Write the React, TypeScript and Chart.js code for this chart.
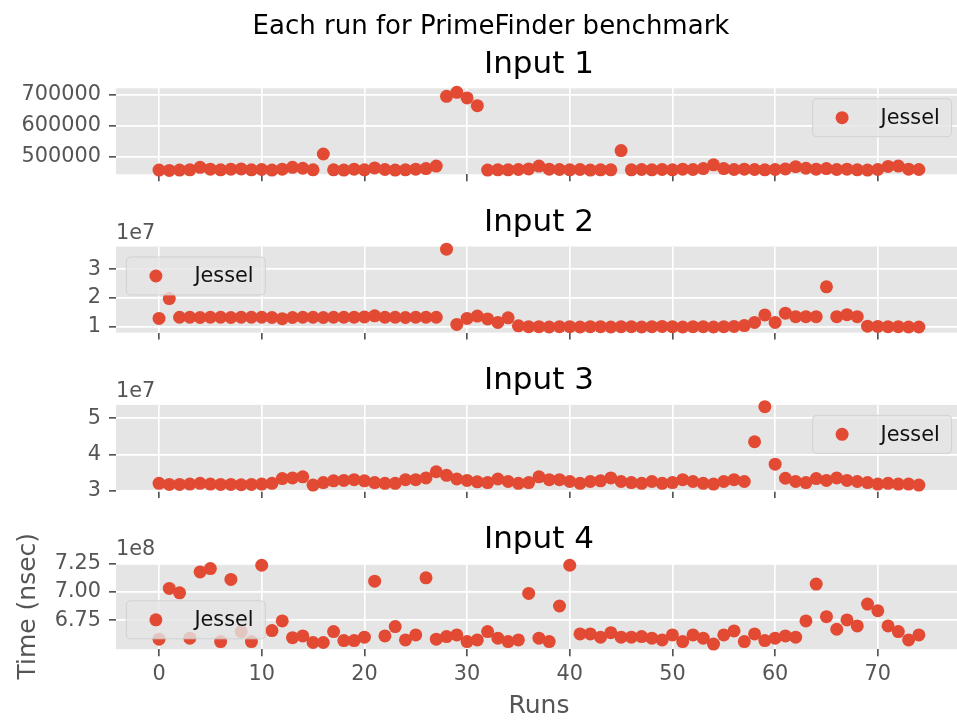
import React, { useEffect, useRef } from "react";
import { Chart, registerables } from "chart.js";

Chart.register(...registerables);

// ---------------- data ----------------
const SUPTITLE = "Each run for PrimeFinder benchmark";
const SERIES_NAME = "Jessel";
const X_LABEL = "Runs";
const Y_LABEL = "Time (nsec)";
const TITLES = ["Input 1", "Input 2", "Input 3", "Input 4"];

const RUNS = [
  0, 1, 2, 3, 4, 5, 6, 7, 8, 9, 10, 11, 12, 13, 14, 15, 16, 17, 18, 19, 20, 21, 22, 23, 24,
  25, 26, 27, 28, 29, 30, 31, 32, 33, 34, 35, 36, 37, 38, 39, 40, 41, 42, 43, 44, 45, 46, 47, 48, 49,
  50, 51, 52, 53, 54, 55, 56, 57, 58, 59, 60, 61, 62, 63, 64, 65, 66, 67, 68, 69, 70, 71, 72, 73, 74,
];

const INPUT1 = [
  457000, 456000, 457000, 458000, 466000, 460000, 458000, 460000, 461000, 458000,
  459000, 457000, 460000, 466000, 463000, 458000, 509000, 458000, 457000, 460000,
  458000, 464000, 459000, 457000, 458000, 460000, 462000, 470000, 695000, 708000,
  690000, 665000, 457000, 458000, 458000, 459000, 461000, 470000, 460000, 459000,
  458000, 459000, 457000, 458000, 458000, 520000, 458000, 459000, 458000, 459000,
  458000, 460000, 459000, 462000, 474000, 462000, 459000, 460000, 459000, 458000,
  459000, 461000, 468000, 463000, 460000, 462000, 459000, 460000, 458000, 457000,
  459000, 469000, 470000, 460000, 459000,
];

const INPUT2 = [
  1.29e7, 1.98e7, 1.33e7, 1.33e7, 1.32e7, 1.33e7, 1.33e7, 1.32e7, 1.33e7, 1.33e7,
  1.33e7, 1.32e7, 1.28e7, 1.32e7, 1.33e7, 1.33e7, 1.32e7, 1.33e7, 1.33e7, 1.33e7,
  1.34e7, 1.38e7, 1.33e7, 1.33e7, 1.32e7, 1.33e7, 1.33e7, 1.33e7, 3.70e7, 1.08e7,
  1.29e7, 1.37e7, 1.27e7, 1.15e7, 1.31e7, 1.03e7, 1.0e7, 1.0e7, 0.99e7, 1.0e7,
  1.0e7, 0.99e7, 1.0e7, 1.0e7, 0.99e7, 1.0e7, 1.0e7, 0.99e7, 1.0e7, 1.01e7,
  1.0e7, 0.99e7, 1.0e7, 1.0e7, 0.99e7, 1.0e7, 1.01e7, 1.04e7, 1.15e7, 1.41e7,
  1.15e7, 1.47e7, 1.35e7, 1.35e7, 1.35e7, 2.39e7, 1.35e7, 1.42e7, 1.35e7, 1.02e7,
  1.01e7, 1.0e7, 1.0e7, 0.99e7, 0.99e7,
];

const INPUT3 = [
  3.20e7, 3.17e7, 3.17e7, 3.18e7, 3.20e7, 3.18e7, 3.17e7, 3.17e7, 3.16e7, 3.17e7,
  3.18e7, 3.20e7, 3.33e7, 3.35e7, 3.38e7, 3.15e7, 3.22e7, 3.27e7, 3.28e7, 3.30e7,
  3.27e7, 3.22e7, 3.20e7, 3.20e7, 3.30e7, 3.30e7, 3.35e7, 3.52e7, 3.42e7, 3.32e7,
  3.28e7, 3.24e7, 3.22e7, 3.32e7, 3.25e7, 3.20e7, 3.22e7, 3.38e7, 3.30e7, 3.30e7,
  3.25e7, 3.20e7, 3.25e7, 3.27e7, 3.35e7, 3.25e7, 3.22e7, 3.20e7, 3.25e7, 3.20e7,
  3.22e7, 3.30e7, 3.25e7, 3.20e7, 3.18e7, 3.25e7, 3.30e7, 3.25e7, 4.35e7, 5.32e7,
  3.73e7, 3.34e7, 3.25e7, 3.22e7, 3.33e7, 3.28e7, 3.35e7, 3.28e7, 3.25e7, 3.22e7,
  3.18e7, 3.20e7, 3.18e7, 3.18e7, 3.15e7,
];

const INPUT4 = [
  6.582e8, 7.03e8, 6.991e8, 6.591e8, 7.175e8, 7.205e8, 6.561e8, 7.109e8, 6.649e8, 6.561e8,
  7.234e8, 6.658e8, 6.743e8, 6.596e8, 6.611e8, 6.553e8, 6.553e8, 6.649e8, 6.57e8, 6.57e8,
  6.6e8, 7.094e8, 6.611e8, 6.693e8, 6.576e8, 6.62e8, 7.123e8, 6.582e8, 6.605e8, 6.62e8,
  6.561e8, 6.576e8, 6.649e8, 6.591e8, 6.561e8, 6.576e8, 6.986e8, 6.591e8, 6.561e8, 6.875e8,
  7.234e8, 6.629e8, 6.629e8, 6.6e8, 6.64e8, 6.6e8, 6.6e8, 6.605e8, 6.591e8, 6.576e8,
  6.62e8, 6.561e8, 6.62e8, 6.591e8, 6.539e8, 6.62e8, 6.655e8, 6.561e8, 6.629e8, 6.57e8,
  6.591e8, 6.611e8, 6.6e8, 6.743e8, 7.068e8, 6.781e8, 6.67e8, 6.752e8, 6.699e8, 6.892e8,
  6.833e8, 6.699e8, 6.649e8, 6.576e8, 6.62e8,
];

const X_TICKS = [0, 10, 20, 30, 40, 50, 60, 70];
const Y_TICKS_1 = [500000, 600000, 700000];
const Y_TICKS_2 = [1e7, 2e7, 3e7];
const Y_TICKS_3 = [3e7, 4e7, 5e7];
const Y_TICKS_4 = [6.75e8, 7.0e8, 7.25e8];

// ---------------- layout / style ----------------
const CANVAS_W = 970;
const CANVAS_H = 721;
const PLOT_LEFT = 116;
const PLOT_RIGHT = 962;
const PLOT_H = 86;
const PLOT_TOPS = [88.3, 246.6, 404.9, 563.2];
const X_AXIS_H = 40;
const X_MIN = -4.19;
const X_MAX = 78.2;
const RED = "#E24A33";
const BG = "#E5E5E5";
const TICK_COLOR = "#555555";
const FONT = "'DejaVu Sans', 'Liberation Sans', sans-serif";

type Sub = {
  values: number[];
  ticks: number[];
  min: number;
  max: number;
  offset: string;
  legend: string;
  fmt: (v: number) => string;
};

const SUBPLOTS: Sub[] = [
  { values: INPUT1, ticks: Y_TICKS_1, min: 443500, max: 721000, offset: "", legend: "upper right", fmt: (v) => String(Math.round(v)) },
  { values: INPUT2, ticks: Y_TICKS_2, min: 0.795e7, max: 3.79e7, offset: "1e7", legend: "upper left", fmt: (v) => String(Math.round(v / 1e7)) },
  { values: INPUT3, ticks: Y_TICKS_3, min: 2.99e7, max: 5.37e7, offset: "1e7", legend: "upper right", fmt: (v) => String(Math.round(v / 1e7)) },
  { values: INPUT4, ticks: Y_TICKS_4, min: 6.494e8, max: 7.252e8, offset: "1e8", legend: "lower left", fmt: (v) => (v / 1e8).toFixed(2) },
];

function drawLegend(ctx: CanvasRenderingContext2D, area: any, pos: string) {
  const w = 139;
  const h = 38;
  const pad = 10.4;
  const x = pos.includes("right") ? area.right - pad - w : area.left + pad;
  const y = pos.includes("upper") ? area.top + pad : area.bottom - pad - h;
  ctx.save();
  ctx.beginPath();
  const r = 4;
  ctx.moveTo(x + r, y);
  ctx.lineTo(x + w - r, y);
  ctx.quadraticCurveTo(x + w, y, x + w, y + r);
  ctx.lineTo(x + w, y + h - r);
  ctx.quadraticCurveTo(x + w, y + h, x + w - r, y + h);
  ctx.lineTo(x + r, y + h);
  ctx.quadraticCurveTo(x, y + h, x, y + h - r);
  ctx.lineTo(x, y + r);
  ctx.quadraticCurveTo(x, y, x + r, y);
  ctx.closePath();
  ctx.fillStyle = "rgba(229,229,229,0.8)";
  ctx.fill();
  ctx.strokeStyle = "rgba(204,204,204,0.8)";
  ctx.lineWidth = 1;
  ctx.stroke();
  ctx.beginPath();
  ctx.arc(x + 29.5, y + h / 2, 6.5, 0, Math.PI * 2);
  ctx.fillStyle = RED;
  ctx.fill();
  ctx.fillStyle = "#111";
  ctx.font = `20.8px ${FONT}`;
  ctx.textAlign = "left";
  ctx.textBaseline = "middle";
  ctx.fillText(SERIES_NAME, x + 68, y + h / 2 + 1);
  ctx.restore();
}

function Subplot({ idx }: { idx: number }) {
  const ref = useRef<HTMLCanvasElement>(null);
  useEffect(() => {
    const cfg = SUBPLOTS[idx];
    const top = PLOT_TOPS[idx];
    const decor = {
      id: "decor" + idx,
      beforeDraw(chart: any) {
        const { ctx, chartArea: a } = chart;
        ctx.save();
        ctx.fillStyle = BG;
        ctx.fillRect(a.left, a.top, a.right - a.left, a.bottom - a.top);
        ctx.restore();
      },
      afterDraw(chart: any) {
        const { ctx, chartArea: a } = chart;
        ctx.save();
        // subplot title
        ctx.fillStyle = "#000";
        ctx.font = `31px ${FONT}`;
        ctx.textAlign = "center";
        ctx.textBaseline = "alphabetic";
        ctx.fillText(TITLES[idx], (a.left + a.right) / 2, a.top - 15.5);
        // offset text
        if (cfg.offset) {
          ctx.fillStyle = TICK_COLOR;
          ctx.font = `20.8px ${FONT}`;
          ctx.textAlign = "left";
          ctx.fillText(cfg.offset, a.left, a.top - 8);
        }
        if (idx === 0) {
          ctx.fillStyle = "#000";
          ctx.font = `26px ${FONT}`;
          ctx.textAlign = "center";
          ctx.fillText(SUPTITLE, 491, 34);
        }
        if (idx === 3) {
          ctx.fillStyle = TICK_COLOR;
          ctx.font = `25px ${FONT}`;
          ctx.textAlign = "center";
          ctx.textBaseline = "middle";
          ctx.fillText(X_LABEL, (a.left + a.right) / 2, 706);
          ctx.translate(28, (a.top + a.bottom) / 2);
          ctx.rotate(-Math.PI / 2);
          ctx.fillText(Y_LABEL, 0, 0);
        }
        ctx.restore();
        drawLegend(ctx, a, cfg.legend);
      },
    };
    const gridCommon = {
      color: "#ffffff",
      lineWidth: 1.67,
      drawTicks: true,
      tickLength: 7,
      tickColor: TICK_COLOR,
      tickWidth: 1.67,
    };
    const chart = new Chart(ref.current as HTMLCanvasElement, {
      type: "scatter",
      data: {
        datasets: [
          {
            label: SERIES_NAME,
            data: RUNS.map((r, i) => ({ x: r, y: cfg.values[i] })),
            backgroundColor: RED,
            borderColor: RED,
            borderWidth: 0,
            pointRadius: 6.5,
            pointHoverRadius: 6.5,
            clip: false,
          } as any,
        ],
      },
      options: {
        responsive: false,
        animation: false,
        devicePixelRatio: 1,
        events: [],
        layout: {
          padding: {
            top: top,
            left: 0,
            right: CANVAS_W - PLOT_RIGHT,
            bottom: CANVAS_H - (top + PLOT_H) - X_AXIS_H,
          },
        },
        plugins: {
          legend: { display: false },
          tooltip: { enabled: false },
          title: { display: false },
        },
        scales: {
          x: {
            type: "linear",
            min: X_MIN,
            max: X_MAX,
            afterBuildTicks: (s: any) => {
              s.ticks = X_TICKS.map((v) => ({ value: v }));
            },
            afterFit: (s: any) => {
              s.height = X_AXIS_H;
            },
            grid: gridCommon,
            border: { display: false },
            ticks: {
              display: idx === 3,
              color: TICK_COLOR,
              font: { family: FONT, size: 20.8 },
              padding: 6,
              maxRotation: 0,
              autoSkip: false,
              callback: (v: any) => String(v),
            },
          },
          y: {
            type: "linear",
            min: cfg.min,
            max: cfg.max,
            afterBuildTicks: (s: any) => {
              s.ticks = cfg.ticks.map((v) => ({ value: v }));
            },
            afterFit: (s: any) => {
              s.width = PLOT_LEFT;
            },
            grid: gridCommon,
            border: { display: false },
            ticks: {
              color: TICK_COLOR,
              font: { family: FONT, size: 20.8 },
              padding: 8,
              autoSkip: false,
              callback: (v: any) => cfg.fmt(Number(v)),
            },
          },
        },
      } as any,
      plugins: [decor],
    });
    return () => chart.destroy();
  }, [idx]);
  return (
    <canvas
      ref={ref}
      width={CANVAS_W}
      height={CANVAS_H}
      style={{ position: "absolute", left: 0, top: 0, width: CANVAS_W, height: CANVAS_H }}
    />
  );
}

export default function App() {
  return (
    <div
      style={{
        position: "absolute",
        left: 0,
        top: 0,
        width: 957,
        height: 721,
        overflow: "hidden",
        background: "#ffffff",
      }}
    >
      {[0, 1, 2, 3].map((i) => (
        <Subplot key={i} idx={i} />
      ))}
    </div>
  );
}
